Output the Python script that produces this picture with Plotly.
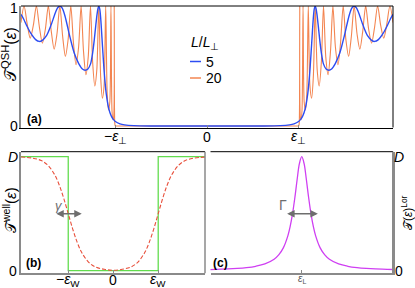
import plotly.graph_objects as go

# ---------------- panel (a): QSH transmission ----------------
eps_orange = [-2.0306, -1.9965, -1.9626, -1.9289, -1.8955, -1.8622, -1.8292, -1.7964, -1.7639, -1.7317,
              -1.6998, -1.6682, -1.6369, -1.606, -1.5755, -1.5453, -1.5156, -1.4863, -1.4575, -1.4292,
              -1.4014, -1.3742, -1.3475, -1.3215, -1.2962, -1.2716, -1.2477, -1.2246, -1.2024, -1.181,
              -1.1606, -1.1412, -1.1228, -1.1055, -1.0893, -1.0743, -1.0606, -1.0482, -1.0371, -1.0274,
              -1.0191, -1.0123, -1.0069, -1.0031, -1.0008, -1.0, -0.995, -0.98, -0.9, 0.0,
              0.9, 0.98, 0.995, 1.0, 1.0008, 1.0031, 1.0069, 1.0123, 1.0191,
              1.0274, 1.0371, 1.0482, 1.0606, 1.0743, 1.0893, 1.1055, 1.1228, 1.1412, 1.1606,
              1.181, 1.2024, 1.2246, 1.2477, 1.2716, 1.2962, 1.3215, 1.3475, 1.3742, 1.4014,
              1.4292, 1.4575, 1.4863, 1.5156, 1.5453, 1.5755, 1.606, 1.6369, 1.6682, 1.6998,
              1.7317, 1.7639, 1.7964, 1.8292, 1.8622, 1.8955, 1.9289, 1.9626, 1.9965, 2.0306]
T_orange = [0.862, 1.0, 0.8508, 0.7312, 0.8383, 1.0, 0.8243, 0.6901, 0.8085, 1.0,
            0.7907, 0.6407, 0.7706, 1.0, 0.7477, 0.5812, 0.7218, 1.0, 0.6922, 0.5104,
            0.6584, 1.0, 0.62, 0.4274, 0.5763, 1.0, 0.5268, 0.3332, 0.4713, 1.0,
            0.4097, 0.2321, 0.3426, 1.0, 0.2718, 0.1336, 0.1999, 1.0, 0.1313, 0.0526,
            0.0716, 1.0, 0.027, 0.0061, 0.0031, 0.0025, 0.0008, 0.0001, 0.0, 0.0,
            0.0, 0.0001, 0.0008, 0.0025, 0.0031, 0.0061, 0.027, 1.0, 0.0716,
            0.0526, 0.1313, 1.0, 0.1999, 0.1336, 0.2718, 1.0, 0.3426, 0.2321, 0.4097,
            1.0, 0.4713, 0.3332, 0.5268, 1.0, 0.5763, 0.4274, 0.62, 1.0, 0.6584,
            0.5104, 0.6922, 1.0, 0.7218, 0.5812, 0.7477, 1.0, 0.7706, 0.6407, 0.7907,
            1.0, 0.8085, 0.6901, 0.8243, 1.0, 0.8383, 0.7312, 0.8508, 1.0, 0.862]

eps_blue = [-2.03, -2.0, -1.97, -1.92, -1.87, -1.83, -1.8, -1.75, -1.7, -1.65, -1.63, -1.606,
            -1.58, -1.55, -1.5, -1.45, -1.4, -1.36, -1.33, -1.3, -1.27, -1.25, -1.23, -1.215,
            -1.2, -1.19, -1.181, -1.17, -1.16, -1.14, -1.12, -1.1, -1.08, -1.06, -1.04, -1.02,
            -1.0, -0.95, -0.9, -0.8, -0.6, 0.0,
            0.6, 0.8, 0.9, 0.95, 1.0, 1.02, 1.04, 1.06, 1.08, 1.1, 1.12, 1.14, 1.16, 1.17,
            1.181, 1.19, 1.2, 1.215, 1.23, 1.25, 1.27, 1.3, 1.33, 1.36, 1.4, 1.45, 1.5, 1.55,
            1.58, 1.606, 1.63, 1.65, 1.7, 1.75, 1.8, 1.83, 1.87, 1.92, 1.97, 2.0, 2.03]
T_blue = [0.93, 0.89, 0.84, 0.77, 0.72, 0.705, 0.712, 0.755, 0.845, 0.955, 0.985, 1.0,
          0.982, 0.917, 0.755, 0.61, 0.52, 0.475, 0.465, 0.475, 0.52, 0.6, 0.72, 0.83,
          0.93, 0.98, 1.0, 0.971, 0.896, 0.658, 0.43, 0.271, 0.173, 0.1135, 0.0769, 0.0536,
          0.0385, 0.0186, 0.0099, 0.0036, 0.0009, 0.0002,
          0.0009, 0.0036, 0.0099, 0.0186, 0.0385, 0.0536, 0.0769, 0.1135, 0.173, 0.271, 0.43, 0.658, 0.896, 0.971,
          1.0, 0.98, 0.93, 0.83, 0.72, 0.6, 0.52, 0.475, 0.465, 0.475, 0.52, 0.61, 0.755, 0.917,
          0.982, 1.0, 0.985, 0.955, 0.845, 0.755, 0.712, 0.705, 0.72, 0.77, 0.84, 0.89, 0.93]

a_tick_vals = [-1, 0, 1]
a_tick_text = ["\u2212<i>\u03b5</i><sub>\u22a5</sub>", "0", "<i>\u03b5</i><sub>\u22a5</sub>"]
a_ytick_vals = [0, 1]
a_ytick_text = ["0", "1"]
legend_title = "<i>L</i>/<i>L</i><sub>\u22a5</sub>"
legend_labels = ["5", "20"]

# ---------------- panel (b): well transmission ----------------
eps_well_step = [-2.05, -1.0, -1.0, 1.0, 1.0, 2.05]
T_well_step = [1, 1, 0, 0, 1, 1]
eps_well_smooth = [-2.05, -1.8, -1.6, -1.45, -1.3, -1.2, -1.1, -1.0, -0.9, -0.8, -0.7, -0.55, -0.4, -0.2, 0.0,
                   0.2, 0.4, 0.55, 0.7, 0.8, 0.9, 1.0, 1.1, 1.2, 1.3, 1.45, 1.6, 1.8, 2.05]
T_well_smooth = [0.997, 0.988, 0.966, 0.924, 0.841, 0.752, 0.635, 0.5, 0.365, 0.248, 0.159, 0.076, 0.034, 0.012, 0.004,
                 0.012, 0.034, 0.076, 0.159, 0.248, 0.365, 0.5, 0.635, 0.752, 0.841, 0.924, 0.966, 0.988, 0.997]
b_tick_vals = [-1, 0, 1]
b_tick_text = ["\u2212<i>\u03b5</i><sub>W</sub>", "0", "<i>\u03b5</i><sub>W</sub>"]
gamma_arrow = [-1.3, -0.7, 0.5]   # x_start, x_end, y

# ---------------- panel (c): Lorentzian ----------------
u_lor = [-10, -8, -7, -6, -5, -4, -3, -2.5, -2, -1.5, -1.25, -1, -0.75, -0.5, -0.25, 0,
         0.25, 0.5, 0.75, 1, 1.25, 1.5, 2, 2.5, 3, 4, 5, 6, 7, 8, 10]
T_lor = [0.0099, 0.0154, 0.02, 0.027, 0.0385, 0.0588, 0.1, 0.138, 0.2, 0.308, 0.39, 0.5, 0.64, 0.8, 0.941, 1.0,
         0.941, 0.8, 0.64, 0.5, 0.39, 0.308, 0.2, 0.138, 0.1, 0.0588, 0.0385, 0.027, 0.02, 0.0154, 0.0099]
c_tick_vals = [0]
c_tick_text = ["<i>\u03b5</i><sub>L</sub>"]
Gamma_arrow = [-1.75, 1.75, 0.5]
D_ticks = [0, 1]
D_text = ["0", "<i>D</i>"]

BLUE = "#2d4df2"
ORANGE = "rgba(241,112,50,0.85)"
GREEN = "#62dc4e"
RED = "#e8503c"
MAGENTA = "#cf3ff2"
GRAY = "#8a8a8a"
ARROW = "#6e6e6e"
FONT = "Liberation Sans, Arial, sans-serif"

W, H = 415, 288
def px(x): return x / W
def py(y): return 1 - y / H

fig = go.Figure()
fig.add_trace(go.Scatter(x=eps_orange, y=T_orange, mode="lines", xaxis="x", yaxis="y",
                         line=dict(color=ORANGE, width=1.1, shape="spline", smoothing=0.8), showlegend=False))
fig.add_trace(go.Scatter(x=eps_blue, y=T_blue, mode="lines", xaxis="x", yaxis="y",
                         line=dict(color=BLUE, width=1.4, shape="spline", smoothing=0.8), showlegend=False))
fig.add_trace(go.Scatter(x=eps_well_step, y=T_well_step, mode="lines", xaxis="x2", yaxis="y2",
                         line=dict(color=GREEN, width=1.3), showlegend=False))
fig.add_trace(go.Scatter(x=eps_well_smooth, y=T_well_smooth, mode="lines", xaxis="x2", yaxis="y2",
                         line=dict(color=RED, width=1.1, dash="4px,2px", shape="spline"), showlegend=False))
fig.add_trace(go.Scatter(x=u_lor, y=T_lor, mode="lines", xaxis="x3", yaxis="y3",
                         line=dict(color=MAGENTA, width=1.3, shape="spline"), showlegend=False))

common_x = dict(showgrid=False, zeroline=False, showline=True, ticks="inside", ticklen=3,
                tickcolor=GRAY, showticklabels=False)
common_y = dict(showgrid=False, zeroline=False, showline=True, ticks="", showticklabels=False)

fig.update_layout(
    width=W, height=H, margin=dict(l=0, r=0, t=0, b=0),
    paper_bgcolor="white", plot_bgcolor="white", showlegend=False,
    xaxis=dict(domain=[px(21), px(393)], range=[-2.03, 2.03], anchor="y",
               tickvals=a_tick_vals, linecolor="black", linewidth=1, **common_x),
    yaxis=dict(domain=[py(127.5), py(6)], range=[-0.012, 1.0], anchor="x",
               linecolor=GRAY, linewidth=2, **common_y),
    xaxis2=dict(domain=[px(21), px(205)], range=[-2.05, 2.04], anchor="y2",
                tickvals=b_tick_vals, linecolor=GRAY, linewidth=2, **common_x),
    yaxis2=dict(domain=[py(273.3), py(151.7)], range=[-0.023, 1.044], anchor="x2",
                linecolor=GRAY, linewidth=2, **common_y),
    xaxis3=dict(domain=[px(210.5), px(393)], range=[-9.9, 9.9], anchor="y3",
                tickvals=c_tick_vals, linecolor=GRAY, linewidth=2, **common_x),
    yaxis3=dict(domain=[py(273.3), py(151.7)], range=[-0.023, 1.044], anchor="x3", side="right",
                linecolor=GRAY, linewidth=2, **common_y),
)

shapes = []
for xa, ya, rc, rw in [("x", "y", "black", 1), ("x2", "y2", GRAY, 1.5), ("x3", "y3", GRAY, 2)]:
    shapes.append(dict(type="line", xref=xa + " domain", yref=ya + " domain", x0=0, x1=1, y0=1, y1=1,
                       line=dict(color="black", width=1)))
    shapes.append(dict(type="line", xref=xa + " domain", yref=ya + " domain", x0=1, x1=1, y0=0, y1=1,
                       line=dict(color=rc, width=rw)))
# legend sample lines
shapes.append(dict(type="line", xref="paper", yref="paper", x0=px(190), x1=px(201), y0=py(61.5), y1=py(61.5),
                   line=dict(color=BLUE, width=1.5)))
shapes.append(dict(type="line", xref="paper", yref="paper", x0=px(190), x1=px(201), y0=py(78), y1=py(78),
                   line=dict(color=ORANGE, width=1.5)))
fig.update_layout(shapes=shapes)

ann = []
def text(x, y, s, size=14, color="black", angle=0, xanchor="center", xref="paper", yref="paper"):
    ann.append(dict(x=x, y=y, xref=xref, yref=yref, text=s, showarrow=False,
                    font=dict(family=FONT, size=size, color=color), textangle=angle,
                    xanchor=xanchor, yanchor="middle"))

# tick labels, placed with the axes' scales
for v, t in zip(a_tick_vals, a_tick_text):
    text(v, py(137), t, size=14, xref="x")
text(px(13.5), py(126), a_ytick_text[0], size=14)
text(px(13.5), py(8.5), a_ytick_text[1], size=14)
for v, t in zip(b_tick_vals, b_tick_text):
    text(v, py(280), t, size=14, xref="x2")
for v, t in zip(D_ticks, D_text):
    text(px(13), v, t, size=14, yref="y2")
for v, t in zip(c_tick_vals, c_tick_text):
    text(v, py(279), t, size=10, color="#555555", xref="x3")
for v, t in zip(D_ticks, D_text):
    text(px(399), v, t, size=14, yref="y3")

# legend text
text(px(189), py(43), legend_title, size=14, xanchor="left")
text(px(204), py(62), legend_labels[0], size=14, xanchor="left")
text(px(204), py(78), legend_labels[1], size=14, xanchor="left")
# axis titles
text(px(9), py(54), "\U0001D4AF<sup>QSH</sup>(<i>\u03b5</i>)", size=16, angle=-90)
text(px(9), py(210), "\U0001D4AF<sup>well</sup>(<i>\u03b5</i>)", size=15, angle=-90)
text(px(407), py(213), "\U0001D4AF(<i>\u03b5</i>)<sup>Lor</sup>", size=12, angle=-90)
# panel labels
text(px(34), py(119), "<b>(a)</b>", size=12)
text(px(33), py(263), "<b>(b)</b>", size=12)
text(px(220), py(263), "<b>(c)</b>", size=12)

# arrows
ann.append(dict(x=gamma_arrow[1], y=gamma_arrow[2], ax=gamma_arrow[0], ay=gamma_arrow[2],
                xref="x2", yref="y2", axref="x2", ayref="y2", text="", showarrow=True,
                arrowhead=2, arrowside="end+start", arrowsize=1, arrowwidth=1.5, arrowcolor=ARROW))
text(-1.21, 0.575, "<i>\u03b3</i>", size=13, color=ARROW, xref="x2", yref="y2")
ann.append(dict(x=Gamma_arrow[1], y=Gamma_arrow[2], ax=Gamma_arrow[0], ay=Gamma_arrow[2],
                xref="x3", yref="y3", axref="x3", ayref="y3", text="", showarrow=True,
                arrowhead=2, arrowside="end+start", arrowsize=1, arrowwidth=1.5, arrowcolor=ARROW))
text(-2.05, 0.58, "\u0393", size=14, color=ARROW, xref="x3", yref="y3")
fig.update_layout(annotations=ann)

fig.write_html("out.html", config={"displayModeBar": False},
               post_script="document.body.style.margin='0';document.body.style.overflow='hidden';")
